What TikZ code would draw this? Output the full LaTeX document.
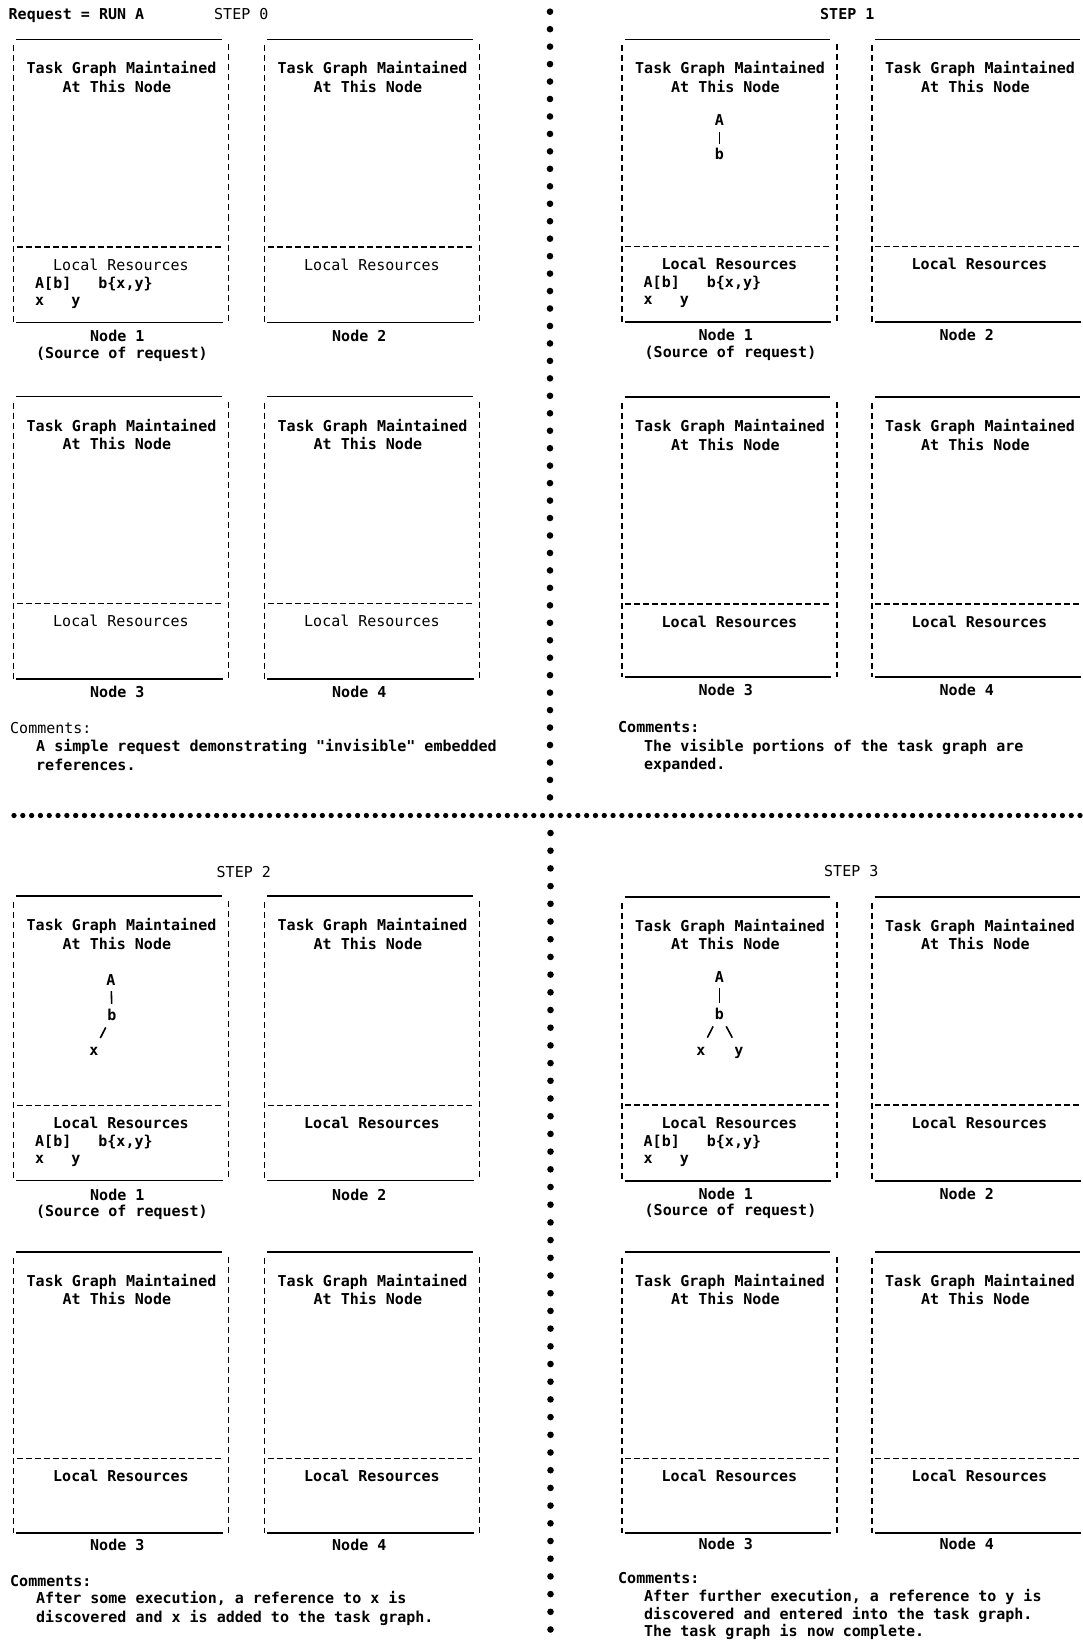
\documentclass[tikz,border=0pt]{standalone}
\usepackage{fontspec}
\setmonofont{DejaVu Sans Mono}
\frenchspacing
\newcommand{\tgfont}{\ttfamily\bfseries\fontsize{15}{18}\selectfont}
\newcommand{\tglight}{\ttfamily\mdseries\fontsize{15}{18}\selectfont}
\tikzset{
  txt/.style={anchor=base west, inner sep=0pt, font=\tgfont},
  ltxt/.style={txt, font=\tglight},
  gn/.style={inner sep=1pt, font=\tgfont, text height=10pt, text depth=0pt},
  edge/.style={line width=1.8pt},
  sepline/.style={line width=1.6pt, dash pattern=on 6pt off 3pt},
  side/.style={line width=1.2pt, dash pattern=on 6pt off 4pt},
  gline/.style={line width=1.6pt, shorten <=5pt, shorten >=5pt},
  gline2/.style={line width=1.6pt, shorten <=7pt, shorten >=7pt},
}
% #1 id, #2 L, #3 T, #4 S, #5 B, #6 style of "Local Resources"
\newcommand{\tgbox}[6]{%
  \draw[edge] ({#2+2.5},#3) -- ({#2+208},#3);
  \draw[edge] ({#2+2.5},#5) -- ({#2+209},#5);
  \draw[sepline] ({#2+3},#4) -- ({#2+208},#4);
  \draw[side] (#2,{#3+6}) -- (#2,#5);
  \draw[side] ({#2+215},{#3+5}) -- ({#2+215},#5);
  \node[txt] (#1t1) at ({#2+13},{#3+34.5}) {Task Graph Maintained};
  \node[txt] (#1t2) at ({#2+49},{#3+53}) {At This Node};
  \node[#6] (#1lr) at ({#2+39.5},{#4+23}) {Local Resources};
}
% #1 id, #2 L, #3 S
\newcommand{\tgres}[3]{%
  \node[txt] (#1r1) at ({#2+21.5},{#3+41}) {A[b]~~~b\{x,y\}};
  \node[txt] (#1r2) at ({#2+21.5},{#3+58}) {x~~~y};
}
\begin{document}
\begin{tikzpicture}[x=1pt,y=-1pt]
\useasboundingbox (0,0) rectangle (1083,1640);
\fill[white] (0,0) rectangle (1083,1640);
\clip (0,0) rectangle (1083,1640);

% dotted dividers
\foreach \i in {0,...,45} \fill (550,{11.7+\i*17.46}) circle (3.3pt);
\foreach \i in {0,...,45} \fill (550.5,{833+\i*17.7}) circle (3.3pt);
\foreach \i in {0,...,121} \fill ({14+\i*8.81},815.5) circle (2.65pt);

% ---------- STEP 0 ----------
\node[txt] (req) at (8.5,20) {Request = RUN A};
\node[ltxt] (step0) at (214,20) {STEP 0};
\tgbox{tlA}{13.5}{39.5}{247}{322.5}{ltxt}
\tgres{tlA}{13.5}{247}
\node[txt] (tlAlab) at (90,341) {Node 1};
\node[txt] (tlAsrc) at (36,358) {(Source of request)};
\tgbox{tlB}{264.5}{39.5}{247}{322.5}{ltxt}
\node[txt] (tlBlab) at (332,341) {Node 2};
\tgbox{tlC}{13.5}{396.5}{603.5}{679}{ltxt}
\node[txt] (tlClab) at (90,697.5) {Node 3};
\tgbox{tlD}{264.5}{396.5}{603.5}{679}{ltxt}
\node[txt] (tlDlab) at (332,697.5) {Node 4};
\node[ltxt] (tlcom) at (10,733.5) {Comments:};
\node[txt] (tlc1) at (36,751.5) {A simple request demonstrating "invisible" embedded};
\node[txt] (tlc2) at (36,770.5) {references.};

% ---------- STEP 1 ----------
\node[txt] (step1) at (820,20) {STEP 1};
\tgbox{trA}{622}{39.5}{246.5}{322}{txt}
\node[gn] (trAa) at (719.5,120.5) {A};
\node[gn] (trAb) at (719.5,155) {b};
\draw[gline] (trAa) -- (trAb);
\tgres{trA}{622}{246.5}
\node[txt] (trAlab) at (698.5,340.5) {Node 1};
\node[txt] (trAsrc) at (644.5,357.5) {(Source of request)};
\tgbox{trB}{872}{39.5}{246.5}{322}{txt}
\node[txt] (trBlab) at (939.5,340.5) {Node 2};
\tgbox{trC}{622}{397}{604}{677}{txt}
\node[txt] (trClab) at (698.5,695.5) {Node 3};
\tgbox{trD}{872}{397}{604}{677}{txt}
\node[txt] (trDlab) at (939.5,695.5) {Node 4};
\node[txt] (trcom) at (618,732.5) {Comments:};
\node[txt] (trc1) at (644,751) {The visible portions of the task graph are};
\node[txt] (trc2) at (644,769.5) {expanded.};

% ---------- STEP 2 ----------
\node[ltxt] (step2) at (216.5,877.7) {STEP 2};
\tgbox{blA}{13.5}{896}{1105.5}{1180.5}{txt}
\node[gn] (blAa) at (111,980) {A};
\node[gn] (blAb) at (112,1015) {b};
\node[gn] (blAx) at (94,1050.5) {x};
\draw[gline] (blAa) -- (blAb);
\draw[gline2] (blAb) -- (blAx);
\tgres{blA}{13.5}{1105.5}
\node[txt] (blAlab) at (90,1200) {Node 1};
\node[txt] (blAsrc) at (36,1216) {(Source of request)};
\tgbox{blB}{264.5}{896}{1105.5}{1180.5}{txt}
\node[txt] (blBlab) at (332,1200) {Node 2};
\tgbox{blC}{13.5}{1251.7}{1458.3}{1532.7}{txt}
\node[txt] (blClab) at (90,1550) {Node 3};
\tgbox{blD}{264.5}{1251.7}{1458.3}{1532.7}{txt}
\node[txt] (blDlab) at (332,1550) {Node 4};
\node[txt] (blcom) at (10,1586) {Comments:};
\node[txt] (blc1) at (36,1603) {After some execution, a reference to x is};
\node[txt] (blc2) at (36,1622.5) {discovered and x is added to the task graph.};

% ---------- STEP 3 ----------
\node[ltxt] (step3) at (824,876.7) {STEP 3};
\tgbox{brA}{622}{896.7}{1105}{1180.7}{txt}
\node[gn] (brAa) at (719.5,977) {A};
\node[gn] (brAb) at (719.5,1014) {b};
\node[gn] (brAx) at (701,1050) {x};
\node[gn] (brAy) at (739,1050) {y};
\draw[gline] (brAa) -- (brAb);
\draw[gline2] (brAb) -- (brAx);
\draw[gline2] (brAb) -- (brAy);
\tgres{brA}{622}{1105}
\node[txt] (brAlab) at (698.5,1199) {Node 1};
\node[txt] (brAsrc) at (644.5,1215.7) {(Source of request)};
\tgbox{brB}{872}{896.7}{1105}{1180.7}{txt}
\node[txt] (brBlab) at (939.5,1199) {Node 2};
\tgbox{brC}{622}{1251.7}{1458.3}{1533.3}{txt}
\node[txt] (brClab) at (698.5,1549) {Node 3};
\tgbox{brD}{872}{1251.7}{1458.3}{1533.3}{txt}
\node[txt] (brDlab) at (939.5,1549) {Node 4};
\node[txt] (brcom) at (618,1583.5) {Comments:};
\node[txt] (brc1) at (644,1601.5) {After further execution, a reference to y is};
\node[txt] (brc2) at (644,1619) {discovered and entered into the task graph.};
\node[txt] (brc3) at (644,1636) {The task graph is now complete.};
\end{tikzpicture}
\end{document}
